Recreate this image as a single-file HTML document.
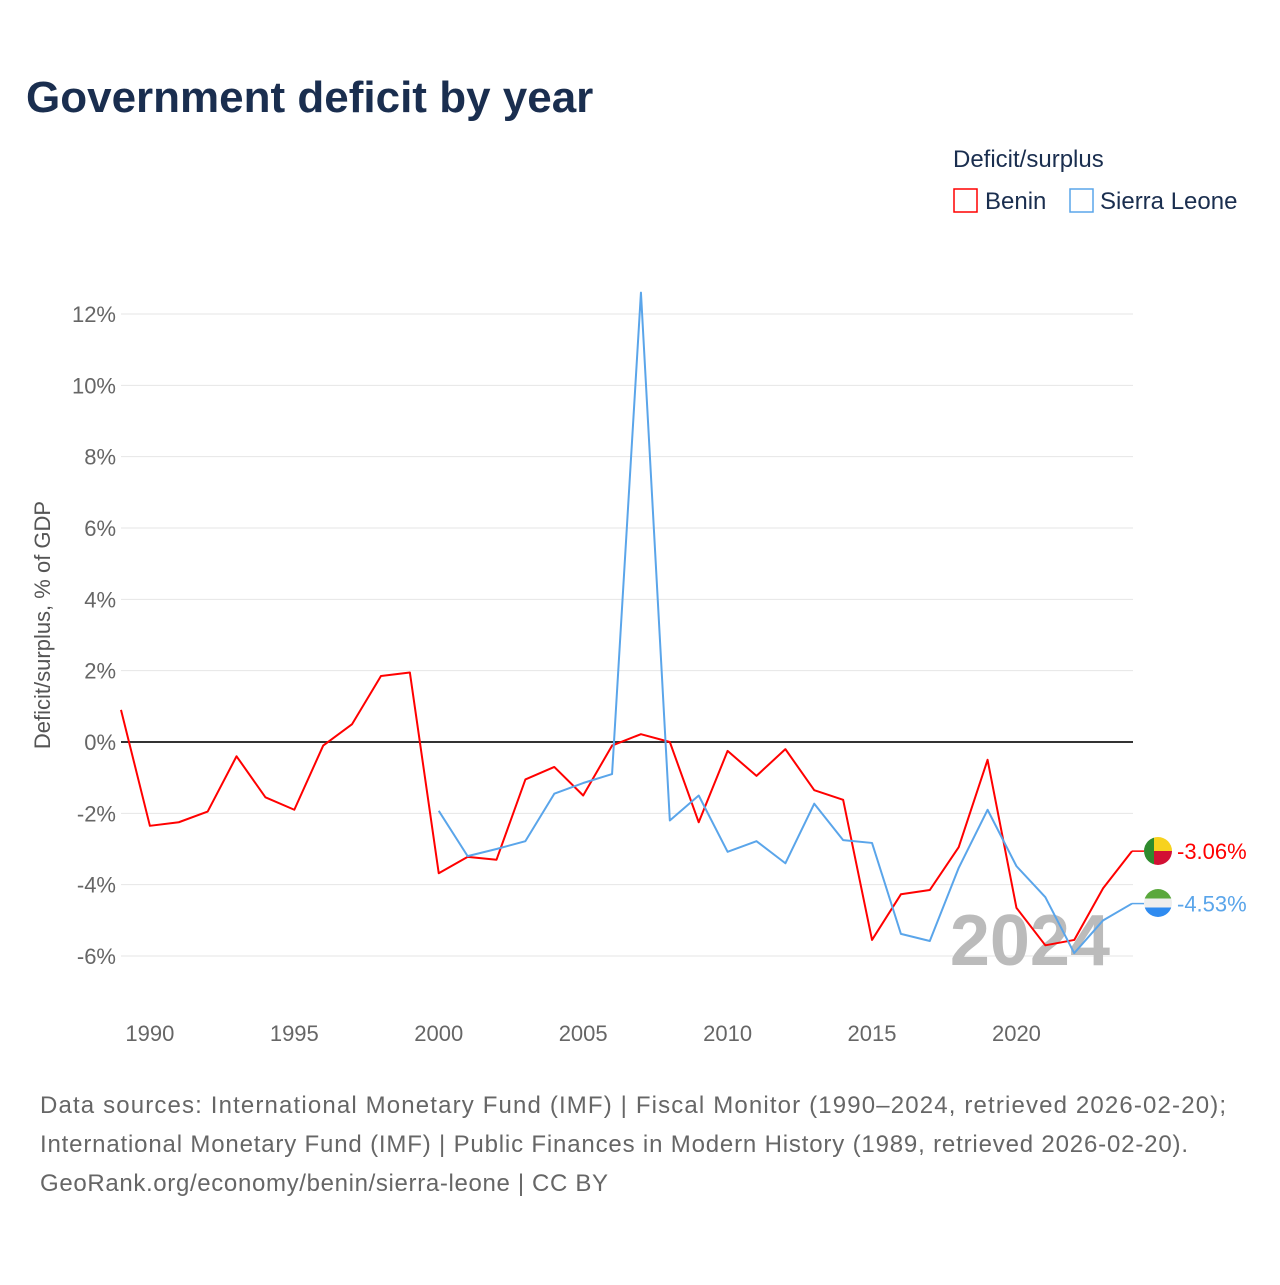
<!DOCTYPE html>
<html><head><meta charset="utf-8"><style>
body{margin:0;background:#fff;font-family:"Liberation Sans",sans-serif;}
</style></head><body>
<svg id="chart" width="1280" height="1280" xmlns="http://www.w3.org/2000/svg" font-family="Liberation Sans, sans-serif">
<defs>
<clipPath id="c1"><circle cx="1158" cy="851" r="14"/></clipPath>
<clipPath id="c2"><circle cx="1158" cy="903" r="14"/></clipPath>
</defs>
<text x="26" y="112" font-size="44" font-weight="bold" fill="#1a2e4f">Government deficit by year</text>
<text x="953" y="167" font-size="24" fill="#1a2e4f">Deficit/surplus</text>
<g><rect x="954" y="189" width="23" height="23" fill="none" stroke="#f00" stroke-width="1.5"/><text x="985" y="209" font-size="24" fill="#1a2e4f">Benin</text></g>
<g><rect x="1070" y="189" width="23" height="23" fill="none" stroke="#5aa5ea" stroke-width="1.5"/><text x="1100" y="209" font-size="24" fill="#1a2e4f">Sierra Leone</text></g>
<g id="grid"></g><g id="axes"></g>
<text x="1110" y="965" font-size="72" font-weight="bold" fill="#bbb" text-anchor="end">2024</text>
<g id="series"></g>
<g clip-path="url(#c1)">
<rect x="1144" y="837" width="10" height="28" fill="#2e8b2e"/><rect x="1154" y="837" width="20" height="14" fill="#f7d21e"/><rect x="1154" y="851" width="20" height="14" fill="#d21034"/></g>
<g clip-path="url(#c2)">
<rect x="1144" y="889" width="28" height="9.5" fill="#5aa83c"/><rect x="1144" y="898.5" width="28" height="9" fill="#eee"/><rect x="1144" y="907.5" width="28" height="10" fill="#2f8bf0"/></g>
<text transform="translate(50,625) rotate(-90)" font-size="22" fill="#555" text-anchor="middle">Deficit/surplus, % of GDP</text>
<g font-size="24" fill="#666">
<text x="40" y="1113" textLength="1186">Data sources: International Monetary Fund (IMF) | Fiscal Monitor (1990–2024, retrieved 2026-02-20);</text>
<text x="40" y="1152" textLength="1148">International Monetary Fund (IMF) | Public Finances in Modern History (1989, retrieved 2026-02-20).</text>
<text x="40" y="1191" textLength="568">GeoRank.org/economy/benin/sierra-leone | CC BY</text>
</g>
</svg>
<script>
const benYears=[1989,1990,1991,1992,1993,1994,1995,1996,1997,1998,1999,2000,2001,2002,2003,2004,2005,2006,2007,2008,2009,2010,2011,2012,2013,2014,2015,2016,2017,2018,2019,2020,2021,2022,2023,2024];
const benin=[0.9,-2.35,-2.25,-1.95,-0.4,-1.55,-1.9,-0.1,0.5,1.85,1.95,-3.68,-3.22,-3.3,-1.05,-0.7,-1.5,-0.1,0.22,0,-2.25,-0.25,-0.95,-0.2,-1.35,-1.62,-5.55,-4.27,-4.15,-2.95,-0.5,-4.65,-5.7,-5.55,-4.1,-3.06];
const slYears=[2000,2001,2002,2003,2004,2005,2006,2007,2008,2009,2010,2011,2012,2013,2014,2015,2016,2017,2018,2019,2020,2021,2022,2023,2024];
const sierraLeone=[-1.93,-3.2,-3.0,-2.78,-1.45,-1.15,-0.9,12.6,-2.2,-1.5,-3.08,-2.78,-3.4,-1.73,-2.75,-2.83,-5.38,-5.58,-3.53,-1.9,-3.48,-4.35,-5.92,-5.0,-4.53];
const yTicks=[-6,-4,-2,0,2,4,6,8,10,12];
const xTicks=[1990,1995,2000,2005,2010,2015,2020];
const NS="http://www.w3.org/2000/svg";
const x=y=>121+(y-1989)*(1132-121)/35;
const yS=v=>742-v*(742-314)/12;
function mk(tag,attrs,parent){const e=document.createElementNS(NS,tag);for(const k in attrs)e.setAttribute(k,attrs[k]);document.getElementById(parent).appendChild(e);return e;}
yTicks.forEach(t=>{
  const l=mk('line',{x1:121,x2:1133,y1:yS(t),y2:yS(t),stroke:t===0?'#333':'#e6e6e6','stroke-width':t===0?2:1},'grid');
  
  
  const tx=mk('text',{x:116,y:yS(t)+8,'text-anchor':'end','font-size':22,fill:'#666'},'axes');
  tx.textContent=t+'%';
  
  
});
xTicks.forEach(t=>{
  const tx=mk('text',{x:x(t),y:1041,'text-anchor':'middle','font-size':22,fill:'#666'},'axes');
  tx.textContent=t;
  
  
});
function line(ys,vals,color,name,label){
  const p=mk('polyline',{points:ys.map((y,i)=>x(y)+','+yS(vals[i])).join(' '),fill:'none',stroke:color,'stroke-width':2,'stroke-linejoin':'round'},'series');
  
  
  const lx=x(ys[ys.length-1]),ly=yS(vals[vals.length-1]);
  const s=mk('line',{x1:lx,x2:lx+12,y1:ly,y2:ly,stroke:color,'stroke-width':1.5},'series');
  
  
  const t=mk('text',{x:lx+45,y:ly+8,'font-size':22,fill:color},'series');
  t.textContent=label;
  
  
}
line(benYears,benin,'#f00','benin-line',benin[benin.length-1].toFixed(2)+'%');
line(slYears,sierraLeone,'#5aa5ea','sierra-leone-line',sierraLeone[sierraLeone.length-1].toFixed(2)+'%');
</script>
</body></html>
